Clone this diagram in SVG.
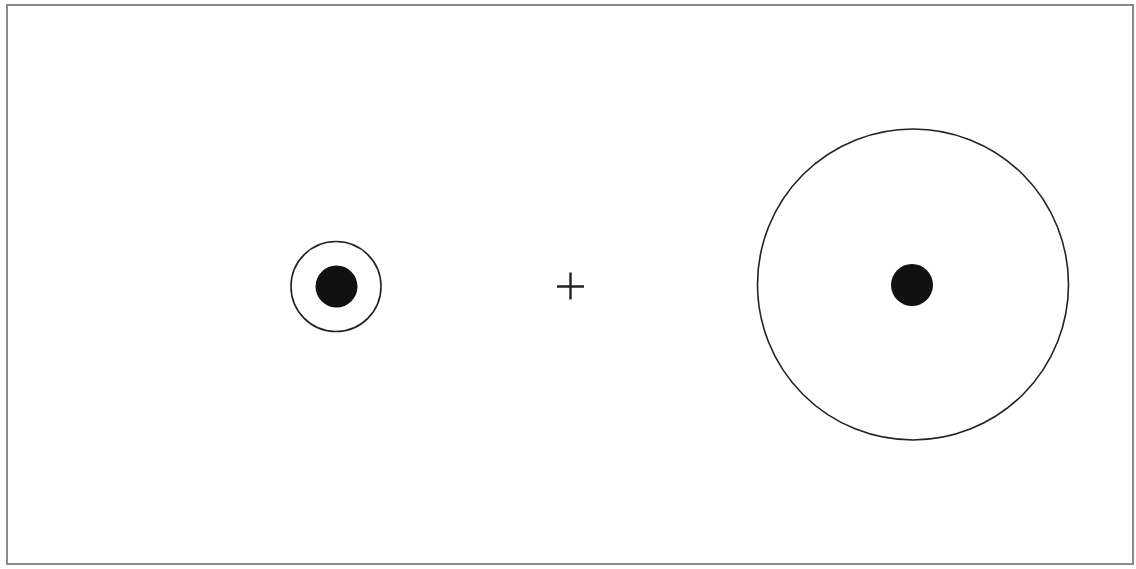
<svg xmlns="http://www.w3.org/2000/svg" width="1136" height="569" viewBox="0 0 1136 569">
<style>
.ring{fill:none;stroke:#222;stroke-width:1.6}
.dot{fill:#111}
.frame{fill:none;stroke:#8a8a8a;stroke-width:2}
</style>
<rect width="1136" height="569" fill="#fff"/>
<rect class="frame" x="7" y="5" width="1126" height="559"/>
<g id="small-body">
<circle class="ring" cx="336" cy="286.5" r="45"/>
<circle class="dot" cx="336.5" cy="286.5" r="21"/>
</g>
<g id="center-mark">
<path d="M557 286.5H584M570.5 272.5V299.5" stroke="#222" stroke-width="2.4" fill="none"/>
</g>
<g id="large-body">
<circle class="ring" cx="913" cy="284.5" r="155.5"/>
<circle class="dot" cx="912" cy="285" r="21"/>
</g>
<g id="connectors"/>
</svg>
